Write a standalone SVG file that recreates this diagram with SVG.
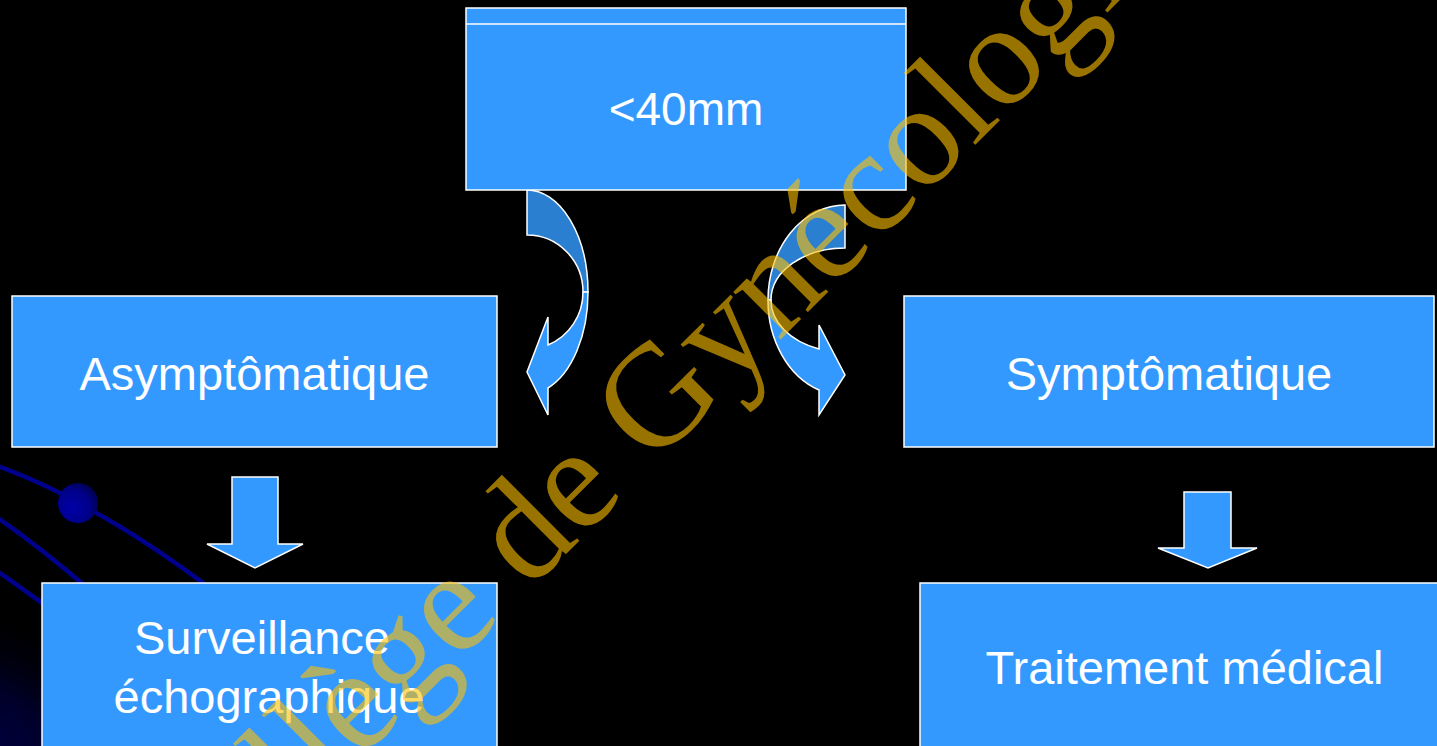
<svg xmlns="http://www.w3.org/2000/svg" width="1437" height="746" viewBox="0 0 1437 746">
  <defs>
    <radialGradient id="ballShade" cx="0.35" cy="0.62" r="0.75">
      <stop offset="0" stop-color="#0000A8"/>
      <stop offset="0.6" stop-color="#000088"/>
      <stop offset="1" stop-color="#000040"/>
    </radialGradient>
    <radialGradient id="cornerGlow" cx="-40" cy="790" r="190" gradientUnits="userSpaceOnUse">
      <stop offset="0" stop-color="#000050"/>
      <stop offset="0.55" stop-color="#00002A"/>
      <stop offset="1" stop-color="#000000" stop-opacity="0"/>
    </radialGradient>
    <style>
      .box { fill: #3399FF; stroke: #FFFFFF; stroke-width: 1.5; }
      .label { font-family: "Liberation Sans", Arial, sans-serif; font-size: 47px; fill: #FFFFFF; text-anchor: middle; }
      .arrow { fill: #3399FF; stroke: #FFFFFF; stroke-width: 1.5; stroke-linejoin: miter; }
      .arrow-back { fill: #2B7FD0; stroke: #FFFFFF; stroke-width: 1.5; }
      .orbit { fill: none; stroke: #00008C; stroke-width: 4.5; }
      .mark { font-family: "Liberation Serif", "Times New Roman", serif; font-size: 146px; fill: #FFC000; fill-opacity: 0.6; }
    </style>
  </defs>

  <!-- background -->
  <rect x="0" y="0" width="1437" height="746" fill="#000000"/>
  <rect x="0" y="560" width="240" height="186" fill="url(#cornerGlow)"/>
  <g id="orbits">
    <path class="orbit" d="M-5,465 C30,478 58,491 78,503 C120,525 160,550 215,592"/>
    <path class="orbit" d="M-5,516 C30,540 60,564 92,592"/>
    <path class="orbit" d="M-5,570 C15,583 32,596 52,610"/>
    <circle cx="78" cy="503" r="20" fill="url(#ballShade)"/>
  </g>

  <!-- connectors -->
  <g id="connectors">
    <g id="curve-left">
      <path class="arrow-back" d="M527,190 A61,102 0 0 1 588,292 L583,292 A56,57 0 0 0 527,235 Z"/>
      <path class="arrow" d="M588,292 A61,102 0 0 1 548,388 L548,415 L527,372 L548,317 L548,345 A56,57 0 0 0 583,292 Z"/>
    </g>
    <g id="curve-right">
      <path class="arrow-back" d="M845,205 A77,95 0 0 0 768,300 L771,300 A74,52 0 0 1 845,248 Z"/>
      <path class="arrow" d="M768,300 A77,95 0 0 0 819,390 L819,415 L845,375 L819,325 L819,349 A74,52 0 0 1 771,300 Z"/>
    </g>
    <path id="down-left" class="arrow" d="M232,477 L278,477 L278,544 L303,544 L255,568 L207,544 L232,544 Z"/>
    <path id="down-right" class="arrow" d="M1184,492 L1231,492 L1231,548 L1257,548 L1208,568 L1158,548 L1184,548 Z"/>
  </g>

  <!-- nodes -->
  <g id="node-size">
    <rect class="box" x="466" y="8" width="440" height="182"/>
    <line x1="466" y1="24" x2="906" y2="24" stroke="#FFFFFF" stroke-width="1.5"/>
    <text class="label" x="686" y="125" style="font-size:46px">&lt;40mm</text>
  </g>
  <g id="node-asymptomatic">
    <rect class="box" x="12" y="296" width="485" height="151"/>
    <text class="label" x="254.5" y="390">Asymptômatique</text>
  </g>
  <g id="node-symptomatic">
    <rect class="box" x="904" y="296" width="530" height="151"/>
    <text class="label" x="1169" y="390">Symptômatique</text>
  </g>
  <g id="node-monitoring">
    <rect class="box" x="42" y="583" width="455" height="180"/>
    <text class="label" x="262" y="654">Surveillance</text>
    <text class="label" x="269" y="713">échographique</text>
  </g>
  <g id="node-treatment">
    <rect class="box" x="920" y="583" width="530" height="180"/>
    <text class="label" x="1184.5" y="684">Traitement médical</text>
  </g>

  <!-- watermark -->
  <text class="mark" transform="translate(182 938) rotate(-45)" x="0" y="0">Collège de Gynécologie</text>
</svg>
